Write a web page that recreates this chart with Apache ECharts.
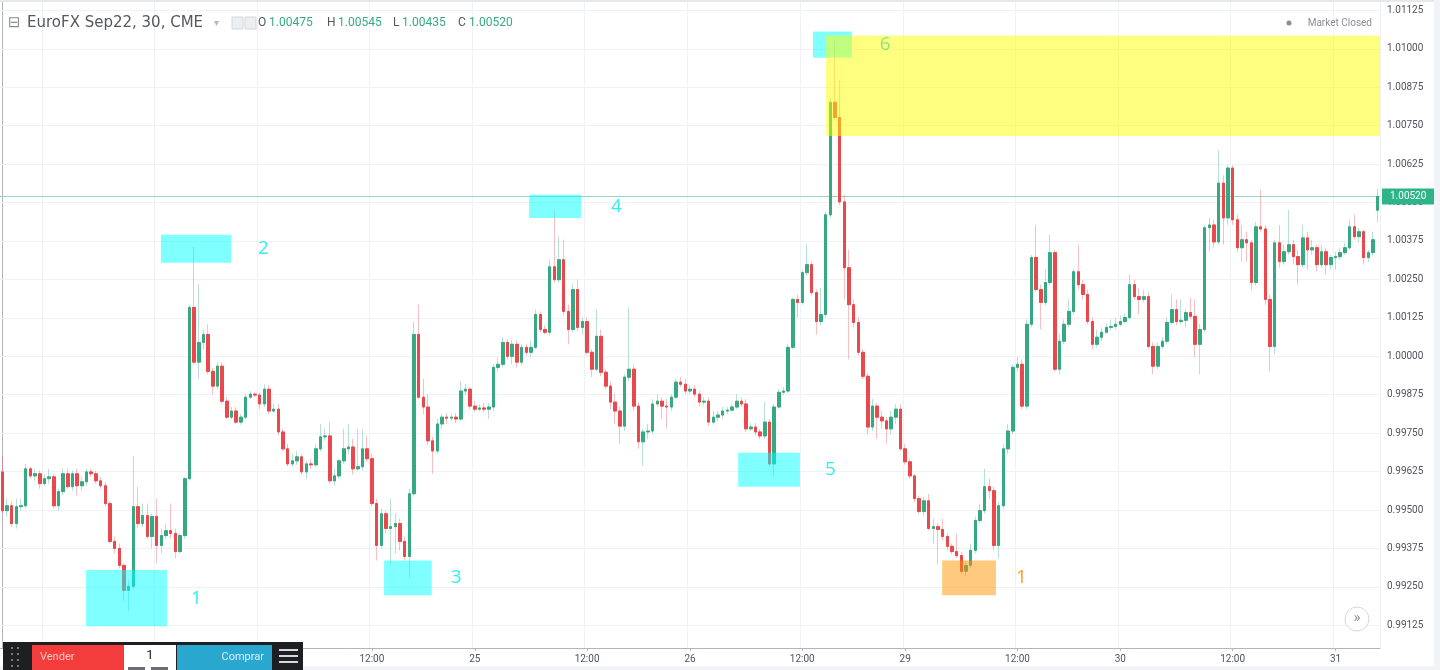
<!DOCTYPE html>
<html>
<head>
<meta charset="utf-8">
<title>EuroFX Sep22, 30, CME</title>
<script src="https://cdn.jsdelivr.net/npm/echarts@6/dist/echarts.min.js"></script>
<style>
  html, body { margin: 0; padding: 0; background: #fff; }
  #chart { width: 1440px; height: 670px; }
</style>
</head>
<body>
<div id="chart"></div>
<script>
// 30 min bars, 22 Aug 19:30 -> 31 Aug 04:30 (day, first bar, last bar)
const sessions = [
  ['22', '19:30', '23:30'],
  ['23', '00:00', '15:30'], ['23', '17:00', '23:30'],
  ['24', '00:00', '15:30'], ['24', '17:00', '23:30'],
  ['25', '00:00', '15:30'], ['25', '17:00', '23:30'],
  ['26', '00:00', '15:30'],
  ['28', '17:00', '23:30'],
  ['29', '00:00', '15:30'], ['29', '17:00', '23:30'],
  ['30', '00:00', '15:30'], ['30', '17:00', '23:30'],
  ['31', '00:00', '04:30']
]

const opens = [
  0.99624, 0.99498, 0.99514, 0.99456, 0.99511, 0.99514, 0.99634, 0.99611, 0.99618, 0.99586,
  0.99602, 0.99608, 0.99514, 0.99560, 0.99618, 0.99576, 0.99618, 0.99579, 0.99592, 0.99624,
  0.99618, 0.99595, 0.99579, 0.99521, 0.99398, 0.99375, 0.99320, 0.99239, 0.99252, 0.99511,
  0.99456, 0.99482, 0.99414, 0.99479, 0.99385, 0.99417, 0.99433, 0.99424, 0.99365, 0.99417,
  0.99602, 1.00159, 0.99981, 1.00045, 1.00071, 0.99951, 0.99903, 0.99968, 0.99854, 0.99802,
  0.99822, 0.99786, 0.99802, 0.99867, 0.99877, 0.99874, 0.99845, 0.99893, 0.99822, 0.99828,
  0.99754, 0.99699, 0.99650, 0.99660, 0.99673, 0.99624, 0.99650, 0.99647, 0.99699, 0.99738,
  0.99741, 0.99595, 0.99611, 0.99660, 0.99699, 0.99705, 0.99634, 0.99641, 0.99699, 0.99667,
  0.99521, 0.99385, 0.99488, 0.99440, 0.99446, 0.99456, 0.99398, 0.99349, 0.99553, 1.00071,
  0.99867, 0.99835, 0.99725, 0.99692, 0.99780, 0.99802, 0.99799, 0.99802, 0.99796, 0.99887,
  0.99893, 0.99838, 0.99828, 0.99832, 0.99828, 0.99835, 0.99964, 0.99974, 1.00045, 1.00000,
  1.00039, 0.99981, 1.00029, 1.00013, 1.00029, 1.00136, 1.00087, 1.00078, 1.00291, 1.00249,
  1.00314, 1.00146, 1.00087, 1.00217, 1.00094, 1.00113, 1.00013, 0.99958, 1.00065, 0.99948,
  0.99903, 0.99851, 0.99822, 0.99773, 0.99932, 0.99958, 0.99838, 0.99722, 0.99754, 0.99757,
  0.99845, 0.99854, 0.99838, 0.99835, 0.99867, 0.99916, 0.99909, 0.99887, 0.99893, 0.99877,
  0.99851, 0.99854, 0.99786, 0.99802, 0.99809, 0.99822, 0.99825, 0.99835, 0.99854, 0.99845,
  0.99764, 0.99770, 0.99754, 0.99741, 0.99786, 0.99650, 0.99835, 0.99883, 0.99887, 1.00029,
  1.00185, 1.00175, 1.00272, 1.00298, 1.00207, 1.00113, 1.00136, 1.00460, 1.00826, 1.00777,
  1.00502, 1.00288, 1.00168, 1.00110, 1.00013, 0.99935, 0.99770, 0.99838, 0.99802, 0.99790,
  0.99764, 0.99802, 0.99828, 0.99699, 0.99657, 0.99611, 0.99537, 0.99495, 0.99530, 0.99440,
  0.99446, 0.99437, 0.99414, 0.99382, 0.99365, 0.99352, 0.99301, 0.99320, 0.99369, 0.99466,
  0.99498, 0.99576, 0.99563, 0.99385, 0.99514, 0.99699, 0.99757, 0.99964, 0.99974, 0.99838,
  1.00104, 1.00321, 1.00217, 1.00175, 1.00240, 1.00337, 0.99958, 1.00049, 1.00104, 1.00146,
  1.00275, 1.00233, 1.00201, 1.00113, 1.00039, 1.00062, 1.00078, 1.00094, 1.00097, 1.00104,
  1.00113, 1.00126, 1.00233, 1.00194, 1.00185, 1.00194, 1.00032, 0.99968, 1.00032, 1.00049,
  1.00110, 1.00152, 1.00113, 1.00117, 1.00142, 1.00130, 1.00039, 1.00087, 1.00418, 1.00427,
  1.00372, 1.00563, 1.00450, 1.00612, 1.00444, 1.00353, 1.00379, 1.00369, 1.00240, 1.00421,
  1.00414, 1.00185, 1.00032, 1.00369, 1.00308, 1.00340, 1.00363, 1.00324, 1.00298, 1.00385,
  1.00346, 1.00353, 1.00298, 1.00340, 1.00298, 1.00321, 1.00324, 1.00337, 1.00353, 1.00421,
  1.00389, 1.00405, 1.00321, 1.00337, 1.00475
]
const closes = [
  0.99498, 0.99514, 0.99456, 0.99511, 0.99514, 0.99634, 0.99611, 0.99618, 0.99586, 0.99602,
  0.99608, 0.99514, 0.99560, 0.99618, 0.99576, 0.99618, 0.99579, 0.99592, 0.99624, 0.99618,
  0.99595, 0.99579, 0.99521, 0.99398, 0.99375, 0.99320, 0.99239, 0.99252, 0.99511, 0.99456,
  0.99482, 0.99414, 0.99479, 0.99385, 0.99417, 0.99433, 0.99424, 0.99365, 0.99417, 0.99602,
  1.00159, 0.99981, 1.00045, 1.00071, 0.99951, 0.99903, 0.99968, 0.99854, 0.99802, 0.99822,
  0.99786, 0.99802, 0.99867, 0.99877, 0.99874, 0.99845, 0.99893, 0.99822, 0.99828, 0.99754,
  0.99699, 0.99650, 0.99660, 0.99673, 0.99624, 0.99650, 0.99647, 0.99699, 0.99738, 0.99741,
  0.99595, 0.99611, 0.99660, 0.99699, 0.99705, 0.99634, 0.99641, 0.99699, 0.99667, 0.99521,
  0.99385, 0.99488, 0.99440, 0.99446, 0.99456, 0.99398, 0.99349, 0.99553, 1.00071, 0.99867,
  0.99835, 0.99725, 0.99692, 0.99780, 0.99802, 0.99799, 0.99802, 0.99796, 0.99887, 0.99893,
  0.99838, 0.99828, 0.99832, 0.99828, 0.99835, 0.99964, 0.99974, 1.00045, 1.00000, 1.00039,
  0.99981, 1.00029, 1.00013, 1.00029, 1.00136, 1.00087, 1.00078, 1.00291, 1.00249, 1.00314,
  1.00146, 1.00087, 1.00217, 1.00094, 1.00113, 1.00013, 0.99958, 1.00065, 0.99948, 0.99903,
  0.99851, 0.99822, 0.99773, 0.99932, 0.99958, 0.99838, 0.99722, 0.99754, 0.99757, 0.99845,
  0.99854, 0.99838, 0.99835, 0.99867, 0.99916, 0.99909, 0.99887, 0.99893, 0.99877, 0.99851,
  0.99854, 0.99786, 0.99802, 0.99809, 0.99822, 0.99825, 0.99835, 0.99854, 0.99845, 0.99764,
  0.99770, 0.99754, 0.99741, 0.99786, 0.99650, 0.99835, 0.99883, 0.99887, 1.00029, 1.00185,
  1.00175, 1.00272, 1.00298, 1.00207, 1.00113, 1.00136, 1.00460, 1.00826, 1.00777, 1.00502,
  1.00288, 1.00168, 1.00110, 1.00013, 0.99935, 0.99770, 0.99838, 0.99802, 0.99790, 0.99764,
  0.99802, 0.99828, 0.99699, 0.99657, 0.99611, 0.99537, 0.99495, 0.99530, 0.99440, 0.99446,
  0.99437, 0.99414, 0.99382, 0.99365, 0.99352, 0.99301, 0.99320, 0.99369, 0.99466, 0.99498,
  0.99576, 0.99563, 0.99385, 0.99514, 0.99699, 0.99757, 0.99964, 0.99974, 0.99838, 1.00104,
  1.00321, 1.00217, 1.00175, 1.00240, 1.00337, 0.99958, 1.00049, 1.00104, 1.00146, 1.00275,
  1.00233, 1.00201, 1.00113, 1.00039, 1.00062, 1.00078, 1.00094, 1.00097, 1.00104, 1.00113,
  1.00126, 1.00233, 1.00194, 1.00185, 1.00194, 1.00032, 0.99968, 1.00032, 1.00049, 1.00110,
  1.00152, 1.00113, 1.00117, 1.00142, 1.00130, 1.00039, 1.00087, 1.00418, 1.00427, 1.00372,
  1.00563, 1.00450, 1.00612, 1.00444, 1.00353, 1.00379, 1.00369, 1.00240, 1.00421, 1.00414,
  1.00185, 1.00032, 1.00369, 1.00308, 1.00340, 1.00363, 1.00324, 1.00298, 1.00385, 1.00346,
  1.00353, 1.00298, 1.00340, 1.00298, 1.00321, 1.00324, 1.00337, 1.00353, 1.00421, 1.00389,
  1.00405, 1.00321, 1.00337, 1.00379, 1.00520
]
const lows = [
  0.99488, 0.99479, 0.99446, 0.99440, 0.99498, 0.99505, 0.99602, 0.99595, 0.99569, 0.99576,
  0.99586, 0.99505, 0.99498, 0.99549, 0.99569, 0.99563, 0.99547, 0.99563, 0.99579, 0.99608,
  0.99586, 0.99569, 0.99511, 0.99391, 0.99359, 0.99310, 0.99203, 0.99171, 0.99239, 0.99440,
  0.99446, 0.99407, 0.99375, 0.99327, 0.99359, 0.99407, 0.99407, 0.99343, 0.99359, 0.99407,
  0.99595, 0.99974, 0.99926, 1.00023, 0.99942, 0.99877, 0.99893, 0.99845, 0.99796, 0.99796,
  0.99780, 0.99777, 0.99796, 0.99861, 0.99867, 0.99828, 0.99835, 0.99812, 0.99815, 0.99744,
  0.99692, 0.99641, 0.99641, 0.99647, 0.99615, 0.99602, 0.99634, 0.99641, 0.99692, 0.99725,
  0.99586, 0.99579, 0.99602, 0.99650, 0.99683, 0.99615, 0.99628, 0.99628, 0.99657, 0.99511,
  0.99336, 0.99375, 0.99424, 0.99323, 0.99359, 0.99369, 0.99336, 0.99278, 0.99543, 0.99861,
  0.99812, 0.99712, 0.99618, 0.99683, 0.99764, 0.99780, 0.99790, 0.99783, 0.99790, 0.99874,
  0.99828, 0.99819, 0.99822, 0.99819, 0.99796, 0.99822, 0.99951, 0.99964, 0.99990, 0.99974,
  0.99964, 0.99971, 1.00003, 0.99997, 1.00023, 1.00078, 1.00071, 1.00068, 1.00240, 1.00240,
  1.00133, 1.00039, 1.00078, 1.00081, 1.00071, 1.00003, 0.99932, 0.99951, 0.99935, 0.99893,
  0.99828, 0.99780, 0.99715, 0.99757, 0.99919, 0.99822, 0.99699, 0.99644, 0.99731, 0.99747,
  0.99835, 0.99796, 0.99764, 0.99822, 0.99861, 0.99900, 0.99877, 0.99877, 0.99867, 0.99838,
  0.99841, 0.99773, 0.99777, 0.99790, 0.99796, 0.99812, 0.99819, 0.99828, 0.99835, 0.99754,
  0.99757, 0.99744, 0.99731, 0.99731, 0.99641, 0.99611, 0.99828, 0.99874, 0.99880, 1.00023,
  1.00126, 1.00168, 1.00262, 1.00198, 1.00071, 1.00100, 1.00126, 1.00450, 1.00767, 1.00492,
  1.00185, 0.99990, 1.00094, 1.00003, 0.99926, 0.99747, 0.99757, 0.99731, 0.99764, 0.99715,
  0.99747, 0.99780, 0.99692, 0.99647, 0.99602, 0.99527, 0.99488, 0.99482, 0.99433, 0.99391,
  0.99323, 0.99401, 0.99369, 0.99356, 0.99343, 0.99294, 0.99284, 0.99310, 0.99359, 0.99456,
  0.99488, 0.99537, 0.99369, 0.99343, 0.99505, 0.99683, 0.99747, 0.99951, 0.99828, 0.99828,
  1.00094, 1.00210, 1.00087, 1.00165, 1.00230, 0.99951, 0.99942, 1.00039, 1.00094, 1.00136,
  1.00217, 1.00185, 1.00104, 1.00023, 1.00029, 1.00049, 1.00074, 1.00084, 1.00087, 1.00097,
  1.00107, 1.00120, 1.00185, 1.00136, 1.00175, 1.00023, 0.99942, 0.99958, 1.00023, 1.00039,
  1.00104, 1.00100, 1.00104, 1.00094, 1.00120, 0.99997, 0.99942, 1.00078, 1.00340, 1.00353,
  1.00363, 1.00363, 1.00427, 1.00427, 1.00340, 1.00308, 1.00308, 1.00217, 1.00230, 1.00405,
  1.00168, 0.99951, 1.00006, 1.00288, 1.00298, 1.00330, 1.00298, 1.00233, 1.00288, 1.00282,
  1.00330, 1.00275, 1.00288, 1.00266, 1.00282, 1.00282, 1.00314, 1.00330, 1.00346, 1.00379,
  1.00372, 1.00298, 1.00308, 1.00327, 1.00435
]
const highs = [
  0.99676, 0.99537, 0.99527, 0.99537, 0.99537, 0.99650, 0.99641, 0.99634, 0.99628, 0.99615,
  0.99634, 0.99618, 0.99569, 0.99634, 0.99634, 0.99628, 0.99634, 0.99608, 0.99634, 0.99634,
  0.99628, 0.99608, 0.99589, 0.99530, 0.99414, 0.99391, 0.99327, 0.99271, 0.99676, 0.99576,
  0.99521, 0.99521, 0.99488, 0.99537, 0.99440, 0.99456, 0.99521, 0.99440, 0.99424, 0.99608,
  1.00168, 1.00356, 1.00233, 1.00087, 1.00104, 0.99964, 0.99981, 0.99981, 0.99867, 0.99835,
  0.99835, 0.99812, 0.99877, 0.99887, 0.99883, 0.99883, 0.99909, 0.99906, 0.99845, 0.99845,
  0.99764, 0.99715, 0.99683, 0.99692, 0.99683, 0.99660, 0.99667, 0.99715, 0.99780, 0.99764,
  0.99786, 0.99634, 0.99667, 0.99764, 0.99780, 0.99731, 0.99764, 0.99764, 0.99741, 0.99683,
  0.99537, 0.99505, 0.99498, 0.99537, 0.99488, 0.99472, 0.99414, 0.99569, 1.00113, 1.00168,
  0.99926, 0.99877, 0.99738, 0.99796, 0.99812, 0.99815, 0.99812, 0.99815, 0.99919, 0.99909,
  0.99900, 0.99854, 0.99845, 0.99848, 0.99848, 0.99974, 0.99997, 1.00062, 1.00055, 1.00055,
  1.00052, 1.00039, 1.00039, 1.00049, 1.00152, 1.00146, 1.00100, 1.00314, 1.00476, 1.00389,
  1.00379, 1.00168, 1.00233, 1.00249, 1.00126, 1.00126, 1.00023, 1.00152, 1.00087, 0.99958,
  0.99916, 0.99877, 0.99835, 0.99942, 1.00159, 0.99974, 0.99851, 0.99764, 0.99780, 0.99861,
  0.99877, 0.99867, 0.99861, 0.99877, 0.99926, 0.99932, 0.99926, 0.99906, 0.99906, 0.99887,
  0.99867, 0.99867, 0.99822, 0.99822, 0.99835, 0.99835, 0.99845, 0.99877, 0.99867, 0.99861,
  0.99783, 0.99783, 0.99764, 0.99851, 0.99796, 0.99845, 0.99893, 0.99900, 1.00039, 1.00191,
  1.00201, 1.00282, 1.00363, 1.00308, 1.00217, 1.00223, 1.00470, 1.00839, 1.01026, 1.00897,
  1.00525, 1.00346, 1.00185, 1.00126, 1.00023, 0.99945, 0.99861, 0.99848, 0.99822, 0.99802,
  0.99822, 0.99845, 0.99845, 0.99715, 0.99667, 0.99618, 0.99547, 0.99543, 0.99553, 0.99472,
  0.99456, 0.99472, 0.99424, 0.99391, 0.99424, 0.99365, 0.99336, 0.99391, 0.99479, 0.99521,
  0.99634, 0.99602, 0.99576, 0.99527, 0.99715, 0.99780, 0.99974, 0.99997, 0.99990, 1.00120,
  1.00330, 1.00427, 1.00233, 1.00282, 1.00395, 1.00346, 1.00071, 1.00120, 1.00185, 1.00282,
  1.00363, 1.00249, 1.00217, 1.00126, 1.00087, 1.00094, 1.00107, 1.00120, 1.00126, 1.00133,
  1.00139, 1.00266, 1.00249, 1.00223, 1.00217, 1.00210, 1.00045, 1.00045, 1.00062, 1.00126,
  1.00201, 1.00185, 1.00185, 1.00152, 1.00191, 1.00185, 1.00104, 1.00427, 1.00450, 1.00444,
  1.00670, 1.00589, 1.00622, 1.00622, 1.00460, 1.00427, 1.00405, 1.00379, 1.00437, 1.00541,
  1.00427, 1.00201, 1.00379, 1.00427, 1.00363, 1.00476, 1.00379, 1.00346, 1.00427, 1.00405,
  1.00379, 1.00363, 1.00363, 1.00353, 1.00330, 1.00340, 1.00353, 1.00369, 1.00444, 1.00460,
  1.00418, 1.00411, 1.00346, 1.00405, 1.00545
]

// price scale labels on the right
const priceTicks = [
  0.99125, 0.99250, 0.99375, 0.99500, 0.99625, 0.99750, 0.99875, 1.00000, 1.00125,
  1.00250, 1.00375, 1.00500, 1.00625, 1.00750, 1.00875, 1.01000, 1.01125
]
const priceRange = [0.990514, 1.011586]

// drawings: [bar, price] corners, fill, number tag
const zones = [
  { from: [17.9, 0.99305], to: [35.2, 0.99122], kind: 'cyan', tag: '1', gap: 24 },
  { from: [33.9, 1.00395], to: [48.9, 1.00304], kind: 'cyan', tag: '2', gap: 27 },
  { from: [81.6, 0.99336], to: [91.8, 0.99223], kind: 'cyan', tag: '3', gap: 19 },
  { from: [112.6, 1.00525], to: [123.7, 1.00450], kind: 'cyan', tag: '4', gap: 30 },
  { from: [157.3, 0.99686], to: [170.5, 0.99576], kind: 'cyan', tag: '5', gap: 25 },
  { from: [173.3, 1.01056], to: [181.6, 1.00971], kind: 'cyan', tag: '6', gap: 28 },
  { from: [176.1, 1.01043], to: [294.5, 1.00716], kind: 'yellow', tag: '', gap: 0 },
  { from: [200.9, 0.99336], to: [212.4, 0.99223], kind: 'orange', tag: '1', gap: 20 }
]
const zoneFill = { cyan: 'rgba(0,255,255,0.5)', yellow: 'rgba(255,255,0,0.5)', orange: 'rgba(255,150,0,0.5)' }
const zoneText = { cyan: '#33eef2', yellow: '#33eef2', orange: '#ff9d1e' }

const times = []
sessions.forEach(([day, from, to]) => {
  let [h, m] = from.split(':').map(Number)
  const [th, tm] = to.split(':').map(Number)
  while (h * 60 + m <= th * 60 + tm) {
    times.push(day + ' ' + String(h).padStart(2, '0') + ':' + String(m).padStart(2, '0'))
    m += 30
    if (m === 60) { m = 0; h++ }
  }
})

const isMark = (idx, val) => {
  const t = val.split(' ')[1]
  return t === '00:00' || t === '12:00'
}
const timeLabel = val => {
  const [d, t] = val.split(' ')
  return t === '00:00' ? d : t
}

const up = '#36a982'
const down = '#e9494c'
const last = closes.length - 1

const candles = opens.map((o, i) => [o, closes[i], lows[i], highs[i]])
const bodies = opens.map((o, i) => [o, closes[i], Math.min(o, closes[i]), Math.max(o, closes[i])])

// price grid lines plus the last price line
const levelLines = priceTicks.map(v => ({ yAxis: v }))
levelLines.push({
  yAxis: closes[last],
  lineStyle: { color: '#8fd9c3', width: 1, type: 'solid' },
  label: {
    show: true,
    position: 'end',
    distance: 2,
    formatter: closes[last].toFixed(5),
    color: '#ffffff',
    backgroundColor: '#2db489',
    padding: [3, 8],
    fontSize: 10,
    fontFamily: 'Roboto'
  }
})

// header and trading panel
const font = (size, family) => size + 'px ' + (family || 'Roboto')
const quote = [['O', opens[last], 258], ['H', highs[last], 327], ['L', lows[last], 393], ['C', closes[last], 458]]
const header = [
  { type: 'text', x: 8, y: 23, style: { text: '⊟', fill: '#8a8d96', font: font(15, '"DejaVu Sans"'), verticalAlign: 'middle' } },
  { type: 'text', x: 27, y: 23, style: { text: 'EuroFX Sep22, 30, CME', fill: '#55575f', font: font(15, '"DejaVu Sans"'), verticalAlign: 'middle' } },
  { type: 'text', x: 214, y: 23, style: { text: '▾', fill: '#b5b8bf', font: font(10, '"DejaVu Sans"'), verticalAlign: 'middle' } },
  { type: 'rect', shape: { x: 232, y: 17, width: 11, height: 12 }, style: { fill: '#eceef2', stroke: '#d4d7dd' } },
  { type: 'rect', shape: { x: 245, y: 17, width: 11, height: 12 }, style: { fill: '#eceef2', stroke: '#d4d7dd' } },
  { type: 'circle', shape: { cx: 1289, cy: 23, r: 2.5 }, style: { fill: '#8a8d96' } },
  { type: 'text', x: 1372, y: 23, style: { text: 'Market Closed', fill: '#8a8d96', font: font(10), align: 'right', verticalAlign: 'middle' } }
]
quote.forEach(([k, v, x]) => {
  header.push({ type: 'text', x: x, y: 23, style: { text: k, fill: '#55585f', font: font(12), verticalAlign: 'middle' } })
  header.push({ type: 'text', x: x + (k === 'L' ? 9 : 11), y: 23, style: { text: v.toFixed(5), fill: '#36a982', font: font(12), verticalAlign: 'middle' } })
})

const panel = [
  { type: 'rect', shape: { x: 0, y: 0, width: 1440, height: 2 }, style: { fill: '#e6e8ec' } },
  { type: 'rect', shape: { x: 1434, y: 0, width: 6, height: 670 }, style: { fill: '#f2f3f6' } },
  { type: 'rect', shape: { x: 0, y: 666, width: 1440, height: 4 }, style: { fill: '#f2f3f6' } },
  { type: 'rect', shape: { x: 3, y: 642, width: 300, height: 28 }, style: { fill: '#1e1f22' } },
  { type: 'rect', shape: { x: 32, y: 645, width: 92, height: 25 }, style: { fill: '#f33c3c' } },
  { type: 'text', x: 40, y: 657, style: { text: 'Vender', fill: '#ffc8c8', font: font(11), verticalAlign: 'middle' } },
  { type: 'rect', shape: { x: 124, y: 645, width: 52, height: 25 }, style: { fill: '#ffffff' } },
  { type: 'text', x: 150, y: 656, style: { text: '1', fill: '#222', font: font(13), align: 'center', verticalAlign: 'middle' } },
  { type: 'rect', shape: { x: 128, y: 667, width: 17, height: 3 }, style: { fill: '#6b6d72' } },
  { type: 'rect', shape: { x: 151, y: 667, width: 17, height: 3 }, style: { fill: '#6b6d72' } },
  { type: 'rect', shape: { x: 177, y: 645, width: 95, height: 25 }, style: { fill: '#2aa7cf' } },
  { type: 'text', x: 264, y: 657, style: { text: 'Comprar', fill: '#d6f1fb', font: font(11), align: 'right', verticalAlign: 'middle' } },
  { type: 'circle', shape: { cx: 1357, cy: 619, r: 12 }, style: { fill: '#ffffff', stroke: '#d6d8de' } },
  { type: 'text', x: 1357, y: 618, style: { text: '»', fill: '#8e919a', font: font(15), align: 'center', verticalAlign: 'middle' } }
]
;[0, 1, 2].forEach(r => {
  panel.push({ type: 'rect', shape: { x: 279, y: 649 + r * 6, width: 19, height: 2 }, style: { fill: '#d8d8d8' } })
})
;[0, 1, 2, 3].forEach(r => {
  ;[11, 17].forEach(x => {
    panel.push({ type: 'rect', shape: { x: x, y: 647 + r * 6, width: 2, height: 2 }, style: { fill: '#77797e' } })
  })
})

const option = {
  animation: false,
  backgroundColor: '#ffffff',
  grid: { left: 0, right: 60, top: 0, bottom: 22 },
  xAxis: [
    {
      type: 'category',
      data: times,
      boundaryGap: true,
      axisLine: { lineStyle: { color: '#b2b5be' } },
      axisTick: { show: true, alignWithLabel: true, interval: isMark, length: 3, lineStyle: { color: '#b2b5be' } },
      axisLabel: { interval: isMark, formatter: timeLabel, color: '#50535e', fontSize: 10, margin: 6, fontFamily: 'Roboto' },
      splitLine: { show: true, interval: isMark, lineStyle: { color: '#eef1f6' } }
    },
    { type: 'value', min: -0.5, max: times.length - 0.5, show: false }
  ],
  yAxis: {
    type: 'value',
    position: 'right',
    min: priceRange[0],
    max: priceRange[1],
    axisLine: { show: true, lineStyle: { color: '#b2b5be' } },
    axisTick: { show: true, length: 4, customValues: priceTicks, lineStyle: { color: '#b2b5be' } },
    axisLabel: { customValues: priceTicks, formatter: v => v.toFixed(5), color: '#50535e', fontSize: 10, margin: 7, fontFamily: 'Roboto' },
    splitLine: { show: false }
  },
  series: [
    {
      name: 'levels',
      type: 'line',
      xAxisIndex: 1,
      data: [],
      silent: true,
      markLine: {
        silent: true,
        z: 1,
        precision: 5,
        symbol: ['none', 'none'],
        label: { show: false },
        lineStyle: { color: '#eef1f6', width: 1, type: 'solid' },
        data: levelLines
      }
    },
    {
      name: 'wicks',
      type: 'candlestick',
      data: candles,
      barWidth: 3,
      silent: true,
      itemStyle: {
        color: 'rgba(54,169,130,0.35)',
        color0: 'rgba(233,73,76,0.35)',
        borderColor: 'rgba(54,169,130,0.35)',
        borderColor0: 'rgba(233,73,76,0.35)',
        borderWidth: 1
      }
    },
    {
      name: 'EuroFX Sep22',
      type: 'candlestick',
      data: bodies,
      barWidth: 3,
      silent: true,
      itemStyle: { color: up, color0: down, borderColor: up, borderColor0: down, borderWidth: 1 }
    },
    {
      name: 'drawings',
      type: 'line',
      xAxisIndex: 1,
      data: [],
      silent: true,
      markArea: {
        silent: true,
        z: 10,
        label: { position: 'right', fontSize: 19, fontFamily: 'Open Sans' },
        data: zones.map(zn => [
          {
            coord: zn.from,
            itemStyle: { color: zoneFill[zn.kind] },
            label: {
              show: zn.tag !== '',
              formatter: zn.tag,
              distance: zn.gap,
              color: zn.tag === '6' ? '#8fe47a' : zoneText[zn.kind]
            }
          },
          { coord: zn.to }
        ])
      }
    }
  ],
  graphic: header.concat(panel).map(el => Object.assign({ z: 100, silent: true }, el))
}

const chart = echarts.init(document.getElementById('chart'))
chart.setOption(option)
</script>
</body>
</html>
